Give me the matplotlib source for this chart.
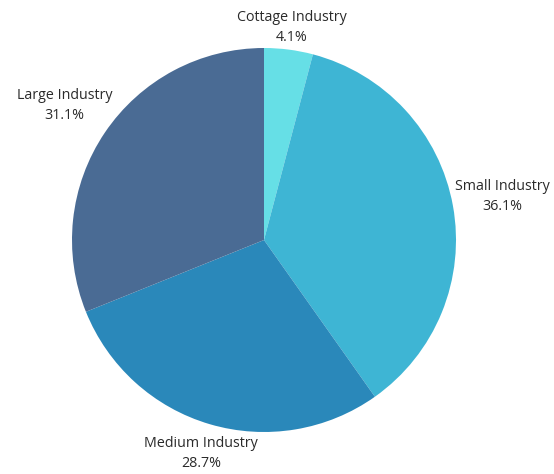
import numpy as np
import matplotlib
matplotlib.use("Agg")
import matplotlib.pyplot as plt

categories = ["Cottage Industry", "Small Industry", "Medium Industry", "Large Industry"]
shares = [4.1, 36.1, 28.7, 31.1]
colors = ["#66DFE6", "#3EB5D4", "#2A88BA", "#4A6B94"]

W, H = 554, 474
fig = plt.figure(figsize=(W / 100, H / 100), dpi=100)
cx, cy, r = 264, 240, 192
ax = fig.add_axes([(cx - r) / W, (H - cy - r) / H, 2 * r / W, 2 * r / H])

wedges, _ = ax.pie(shares, colors=colors, startangle=90, counterclock=False,
                   radius=1.0, wedgeprops=dict(linewidth=0))
ax.set_xlim(-1, 1)
ax.set_ylim(-1, 1)
ax.set_aspect("equal")
ax.axis("off")

renderer = fig.canvas.get_renderer()
to_disp = ax.transData
to_data = ax.transData.inverted()
center_px = to_disp.transform((0, 0))
radius_px = to_disp.transform((1, 0))[0] - center_px[0]
gap_px = 1.0

total = sum(shares)
start = 90.0
for name, val in zip(categories, shares):
    sweep = val / total * 360.0
    mid = np.deg2rad(start - sweep / 2)
    start -= sweep
    c, s = np.cos(mid), np.sin(mid)
    t = ax.text(0, 0, f"{name}\n{val:.1f}%", ha="center", va="center", ma="center",
                fontsize=10.3, family=["Open Sans", "DejaVu Sans"], color="#2a2a2a",
                linespacing=1.47, clip_on=False)
    bb = t.get_window_extent(renderer)
    hw, hh = bb.width / 2, (bb.height / 2) * 0.8
    # push the label box outward along the slice's mid-angle until it clears the rim
    d = radius_px + gap_px + abs(c) * hw + abs(s) * hh
    px = center_px + d * np.array([c, s])
    t.set_position(to_data.transform(px))

fig.savefig("out.png", dpi=100, facecolor="white")
